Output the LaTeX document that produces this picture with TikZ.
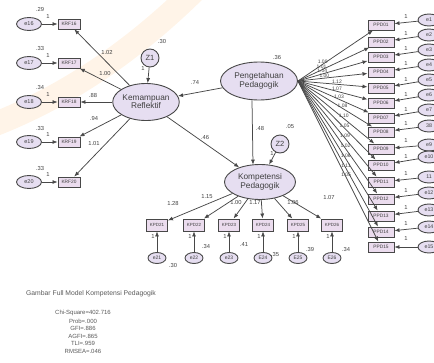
\documentclass[tikz,border=0pt]{standalone}
\usepackage{fontspec}
\setmainfont{Liberation Sans}
\usetikzlibrary{arrows.meta,shapes.geometric,calc}
\definecolor{lav}{HTML}{E6DEF1}
\definecolor{boxfill}{HTML}{EBDCEE}
\definecolor{edge}{HTML}{484848}
\definecolor{txt}{HTML}{404040}
\newcommand\myfs[1]{\fontsize{#1}{#1}\selectfont}
\begin{document}
\begin{tikzpicture}[x=1pt,y=-1pt,
  lat/.style={ellipse,draw=edge,fill=lav,line width=0.9pt,inner sep=0pt,align=center,
     font=\myfs{8.3},text=txt},
  res/.style={circle,draw=edge,fill=lav,line width=0.9pt,inner sep=0pt,minimum size=18pt,
     font=\myfs{7.5},text=txt},
  err/.style={ellipse,draw=edge,fill=lav,line width=0.9pt,inner sep=0pt,minimum width=25pt,
     minimum height=13pt,font=\myfs{5.5},text=txt},
  errr/.style={err,minimum width=22pt,minimum height=12pt,font=\myfs{5.3}},
  errs/.style={ellipse,draw=edge,fill=lav,line width=0.9pt,inner sep=0pt,minimum width=18pt,
     minimum height=11pt,font=\myfs{5},text=txt},
  obs/.style={rectangle,draw=edge,fill=boxfill,line width=0.9pt,inner sep=0pt,minimum width=22pt,
     minimum height=10pt,font=\myfs{4.8},text=txt},
  obsw/.style={obs,minimum width=26pt},
  arr/.style={-{Latex[length=5pt,width=4pt]},draw=edge,line width=0.75pt},
  lbl/.style={inner sep=0pt,font=\myfs{5.8},text=txt},
  captext/.style={inner sep=0pt,font=\myfs{6},text=black!65}
]
\useasboundingbox (0,0) rectangle (434,362);
% faint watermark band
\draw[orange!9,line width=24pt,line cap=round] (-15,128) .. controls (60,100) and (130,55) .. (200,-15);

% latent variables
\node[lat,minimum width=64pt,minimum height=37pt] (kem) at (146,102) {Kemampuan\\Reflektif};
\node[lat,minimum width=77pt,minimum height=38pt] (peng) at (259,81) {Pengetahuan\\Pedagogik};
\node[lat,minimum width=71pt,minimum height=35pt] (komp) at (260,182) {Kompetensi\\Pedagogik};
\node[res] (z1) at (150,58) {Z1};
\node[res] (z2) at (280,144) {Z2};
\node[lbl] at (162,42) {.30};
\node[lbl] at (143,69) {1};
\node[lbl] at (277,58) {.36};
\node[lbl] at (290,127) {.05};
\node[lbl] at (272,154) {1};
\draw[arr] (z1) -- (kem);
\draw[arr] (z2) -- (komp);
\draw[arr] (peng) -- (kem);
\draw[arr] (kem) -- (komp);
\draw[arr] ($(peng.south)+(-7,0)$) -- ($(komp.north)+(-7,0.6)$);
\node[lbl] at (195,83) {.74};
\node[lbl] at (205,138) {.46};
\node[lbl] at (260,128) {.48};

% left indicators
\foreach \i/\y/\v in {16/24/.29,17/63/.33,18/102/.34,19/142/.33,20/182/.33}{
  \node[err] (e\i) at (29,\y) {e\i};
  \node[obs] (krf\i) at (69,\y) {KRF\i};
  \draw[arr] (e\i) -- (krf\i);
  \draw[arr] (kem) -- (krf\i);
  \node[lbl] at (40,{\y-14}) {\v};
  \node[lbl] at (48,{\y-7}) {1};
}
\node[lbl] at (107,53) {1.02};
\node[lbl] at (105,74) {1.00};
\node[lbl] at (93,96) {.88};
\node[lbl] at (94,119) {.94};
\node[lbl] at (94,143) {1.01};

% right indicators
\foreach \n/\y/\ey/\el/\c/\p in {01/25/20/e1/1.00/0.33,02/42/35/e2/1.01/0.33,03/57/50/e3/1.04/0.35,
  04/72/65/e4/1.00/0.38,05/88/80/e5/1.12/0.56,06/103/95/e6/1.07/0.56,07/118/110/e7/1.03/0.58,
  08/132/126/38/1.08/0.6,09/149/145/e9/1.10/0.6,10/165/157/e10/1.05/0.6,11/182/177/11/1.09/0.6,
  12/199/193/e12/1.02/0.6,13/216/210/e13/1.06/0.6,14/232/227/e14/1.11/0.6,15/247/247/e15/1.05/0.6}{
  \node[obsw] (ppd\n) at (381,\y) {PPD\n};
  \node[errr] (r\n) at (429,\ey) {\el};
  \draw[arr] (r\n) -- (ppd\n);
  \draw[arr] (peng.east) -- (ppd\n) node[lbl,pos=\p,above=0.6pt,font=\myfs{5}] {\c};
  \node[lbl] at (406,{\y-8}) {1};
}

% bottom indicators
\foreach \k/\x/\el/\c/\v/\vx/\vy in {21/157/e21/1.28/.30/173/265,22/194/e22/1.15/.34/206/246,
  23/229/e23/1.00/.41/244/245,24/263/E24/1.17/.35/275/254,25/298/E25/1.06/.39/310/249,
  26/332/E26/1.07/.34/346/249}{
  \node[obs,minimum width=21pt,minimum height=12pt,font=\myfs{4.5}] (kpd\k) at (\x,225) {KPD\k};
  \node[errs] (b\k) at (\x,258) {\el};
  \draw[arr] (b\k) -- (kpd\k);
  \draw[arr] (komp) -- (kpd\k);
  \node[lbl] at ({\x-4},237) {1};
  \node[lbl] at (\vx,\vy) {\v};
}
\node[lbl] at (173,203) {1.28};
\node[lbl] at (207,197) {1.15};
\node[lbl] at (236,202) {1.00};
\node[lbl] at (255,203) {1.17};
\node[lbl] at (293,202) {1.06};
\node[lbl] at (329,197) {1.07};

% caption and fit
\node[captext,font=\myfs{6.8}] at (91,294) {Gambar Full Model Kompetensi Pedagogik};
\node[captext] at (83,313) {Chi-Square=402.716};
\node[captext] at (83,321) {Prob=.000};
\node[captext] at (83,328.5) {GFI=.886};
\node[captext] at (83,336) {AGFI=.865};
\node[captext] at (83,343.5) {TLI=.959};
\node[captext] at (83,351) {RMSEA=.046};
\end{tikzpicture}
\end{document}
